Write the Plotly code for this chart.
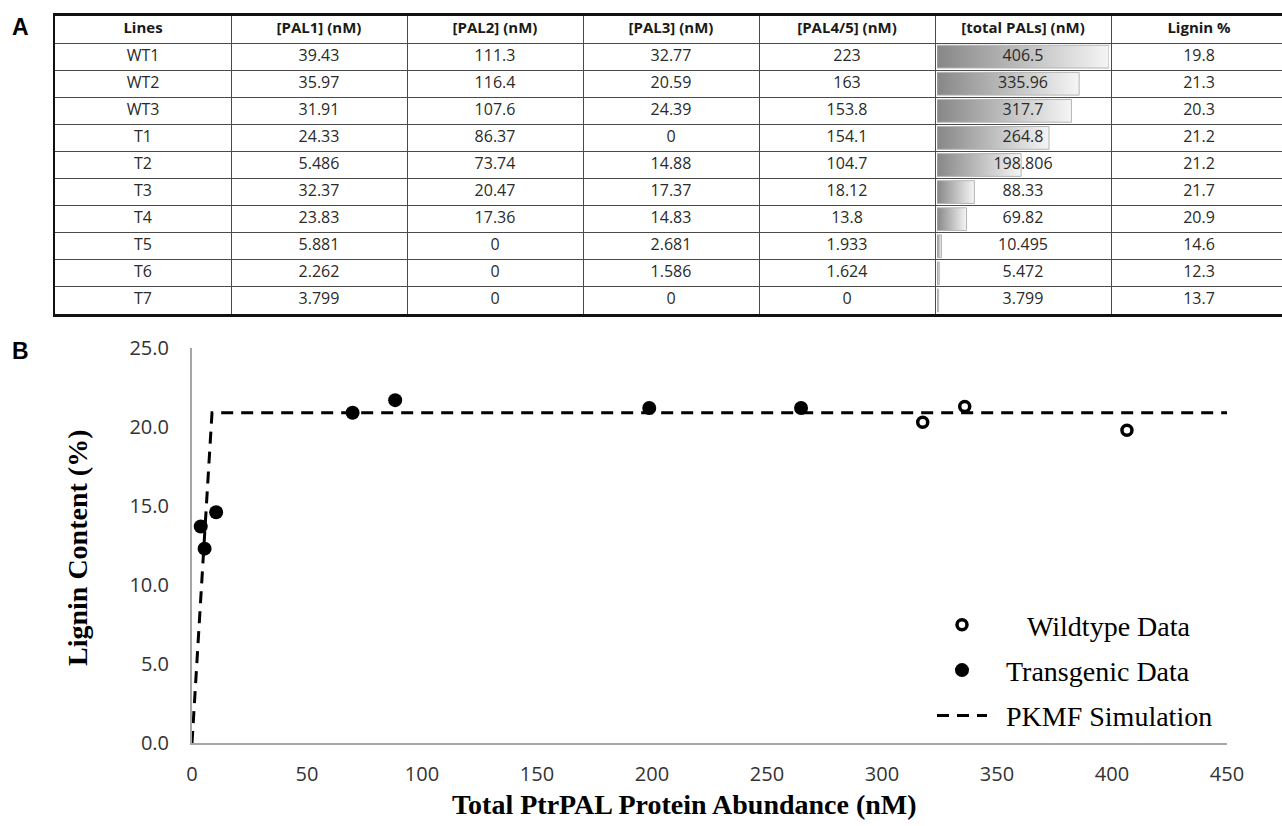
import plotly.graph_objects as go

W, H = 1282, 826

# ---------------- data ----------------
headers = ["Lines", "[PAL1] (nM)", "[PAL2] (nM)", "[PAL3] (nM)", "[PAL4/5] (nM)", "[total PALs] (nM)", "Lignin %"]
lines = ["WT1", "WT2", "WT3", "T1", "T2", "T3", "T4", "T5", "T6", "T7"]
pal1 = ["39.43", "35.97", "31.91", "24.33", "5.486", "32.37", "23.83", "5.881", "2.262", "3.799"]
pal2 = ["111.3", "116.4", "107.6", "86.37", "73.74", "20.47", "17.36", "0", "0", "0"]
pal3 = ["32.77", "20.59", "24.39", "0", "14.88", "17.37", "14.83", "2.681", "1.586", "0"]
pal45 = ["223", "163", "153.8", "154.1", "104.7", "18.12", "13.8", "1.933", "1.624", "0"]
total_pals = [406.5, 335.96, 317.7, 264.8, 198.806, 88.33, 69.82, 10.495, 5.472, 3.799]
lignin = [19.8, 21.3, 20.3, 21.2, 21.2, 21.7, 20.9, 14.6, 12.3, 13.7]
n_wild = 3  # first three lines are wildtype

sim_x = [0, 8.7, 450]
sim_y = [0, 20.9, 20.9]

series_names = ["Wildtype Data", "Transgenic Data", "PKMF Simulation"]
x_ticks = [0, 50, 100, 150, 200, 250, 300, 350, 400, 450]
y_ticks = [0, 5, 10, 15, 20, 25]


def px_x(p):
    return p / W


def px_y(p):
    return 1 - p / H


NB = "\u00a0"
fig = go.Figure()

# ---------------- panel A: table ----------------
col_w = 176.0
tab_left, tab_top, tab_bot = 55, 16, 314
n_rows = len(lines) + 1

# header row (subplot x2/y2 also carries the cell grid)
fig.add_trace(go.Scatter(
    x=[c + 0.5 for c in range(len(headers))], y=[0.5] * len(headers),
    text=["<b>%s</b>" % h for h in headers], mode="text", xaxis="x2", yaxis="y2",
    textfont=dict(family="Open Sans", size=15, color="#1a1a1a"),
    showlegend=False, hoverinfo="skip"))

# data bars in the total column
for i, v in enumerate(total_pals):
    r = i + 1
    fig.add_trace(go.Scatter(
        x=[0, v, v, 0, 0],
        y=[r + 0.08, r + 0.08, r + 0.92, r + 0.92, r + 0.08],
        xaxis="x3", yaxis="y2", mode="lines", fill="toself",
        fillgradient=dict(type="horizontal", colorscale=[[0, "#878787"], [1, "#f5f5f5"]]),
        line=dict(color="#b4b4b4", width=1),
        showlegend=False, hoverinfo="skip"))

# cell texts on top
columns = [lines, pal1, pal2, pal3, pal45, [str(v) for v in total_pals], [str(v) for v in lignin]]
cx, cy, ct = [], [], []
for c, col in enumerate(columns):
    for i, s in enumerate(col):
        cx.append(c + 0.5)
        cy.append(i + 1.5)
        ct.append(s)
fig.add_trace(go.Scatter(
    x=cx, y=cy, text=ct, mode="text", xaxis="x4", yaxis="y4",
    textfont=dict(family="Open Sans", size=16, color="#2a2a2a"),
    showlegend=False, hoverinfo="skip"))

# ---------------- panel B: scatter ----------------
fig.add_trace(go.Scatter(
    x=total_pals[:n_wild], y=lignin[:n_wild], mode="markers",
    name=NB * 5 + series_names[0],
    marker=dict(symbol="circle", size=10, color="white", line=dict(color="black", width=3.5)),
    cliponaxis=False, legendgroup="a"))
fig.add_trace(go.Scatter(
    x=total_pals[n_wild:], y=lignin[n_wild:], mode="markers",
    name=NB * 2 + series_names[1],
    marker=dict(symbol="circle", size=14, color="black"),
    cliponaxis=False, legendgroup="b"))
fig.add_trace(go.Scatter(
    x=sim_x, y=sim_y, mode="lines",
    name=NB * 2 + series_names[2],
    line=dict(color="black", width=3, dash="12px,8px"),
    cliponaxis=False, legendgroup="c"))

tab_x_range = [0, (W - tab_left) / col_w]
tab_x_dom = [px_x(tab_left), 1]
tab_y_dom = [px_y(tab_bot), px_y(tab_top)]

fig.update_layout(
    width=W, height=H, autosize=False,
    margin=dict(l=0, r=0, t=0, b=0, pad=0, autoexpand=False),
    paper_bgcolor="white", plot_bgcolor="rgba(0,0,0,0)",
    xaxis=dict(domain=[px_x(192), px_x(1227)], range=[0, 450], anchor="y", automargin=False,
               tickvals=x_ticks, showgrid=False, zeroline=False,
               showline=True, linecolor="#a6a6a6", linewidth=2, ticks="",
               ticklabelstandoff=12,
               tickfont=dict(family="Open Sans", size=20, color="#333333")),
    yaxis=dict(domain=[px_y(743), px_y(348)], range=[0, 25], anchor="x", automargin=False,
               tickvals=y_ticks, tickformat=".1f", showgrid=False, zeroline=False,
               showline=True, linecolor="#a6a6a6", linewidth=2, ticks="",
               ticklabelstandoff=17,
               tickfont=dict(family="Open Sans", size=20, color="#333333")),
    xaxis2=dict(domain=tab_x_dom, range=tab_x_range, anchor="y2", automargin=False,
                tickvals=[1, 2, 3, 4, 5, 6], showticklabels=False, ticks="",
                showgrid=True, gridcolor="#4a4a4a", gridwidth=1.3, zeroline=False,
                showline=True, mirror=True, linecolor="#111111", linewidth=2.5),
    yaxis2=dict(domain=tab_y_dom, range=[n_rows, 0], anchor="x2", automargin=False,
                tickvals=list(range(1, n_rows)), showticklabels=False, ticks="",
                showgrid=True, gridcolor="#4a4a4a", gridwidth=1.3, zeroline=False,
                showline=True, mirror=False, linecolor="#111111", linewidth=2),
    xaxis3=dict(domain=[px_x(tab_left + 5 * col_w + 2), px_x(tab_left + 6 * col_w - 2)],
                range=[0, max(total_pals)], anchor="y2", visible=False, automargin=False),
    xaxis4=dict(domain=tab_x_dom, range=tab_x_range, anchor="y4", visible=False, automargin=False),
    yaxis4=dict(domain=tab_y_dom, range=[n_rows, 0], anchor="x4", visible=False, automargin=False),
    showlegend=True,
    legend=dict(x=px_x(932), y=px_y(600), xanchor="left", yanchor="top",
                bgcolor="rgba(0,0,0,0)", tracegroupgap=6, traceorder="grouped",
                itemwidth=50,
                font=dict(family="Liberation Serif", size=28, color="black")),
    annotations=[
        dict(text="<b>A</b>", x=px_x(20), y=px_y(27), xref="paper", yref="paper",
             xanchor="center", yanchor="middle", showarrow=False,
             font=dict(family="Liberation Sans", size=23, color="black")),
        dict(text="<b>B</b>", x=px_x(20), y=px_y(351), xref="paper", yref="paper",
             xanchor="center", yanchor="middle", showarrow=False,
             font=dict(family="Liberation Sans", size=23, color="black")),
        dict(text="<b>Lignin Content (%)</b>", x=px_x(77), y=px_y(548), xref="paper", yref="paper",
             xanchor="center", yanchor="middle", textangle=-90, showarrow=False,
             font=dict(family="Liberation Serif", size=28, color="black")),
        dict(text="<b>Total PtrPAL Protein Abundance (nM)</b>", x=px_x(684), y=px_y(804),
             xref="paper", yref="paper", xanchor="center", yanchor="middle", showarrow=False,
             font=dict(family="Liberation Serif", size=28, color="black")),
    ],
)

fig.write_html(
    "out.html",
    config={"displayModeBar": False},
    post_script=("document.body.style.margin='0';"
                 "document.body.style.overflow='hidden';"
                 "document.documentElement.style.overflow='hidden';"),
)
